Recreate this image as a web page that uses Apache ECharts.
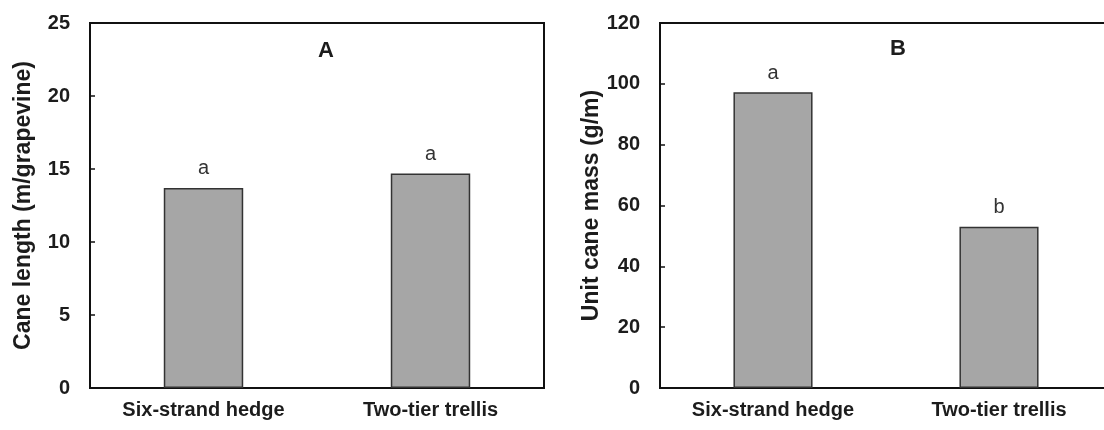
<!DOCTYPE html>
<html>
<head>
<meta charset="utf-8">
<script src="https://cdn.jsdelivr.net/npm/echarts@6/dist/echarts.min.js"></script>
<style>
  html, body { margin: 0; padding: 0; background: #fff; overflow: hidden; }
  #chart { width: 1120px; height: 430px; }
</style>
</head>
<body>
<div id="chart"></div>
<script>
// Training systems compared in both panels
const systems = ['Six-strand hedge', 'Two-tier trellis'];

// Panel A: cane length per grapevine (m)
const caneLength = [13.7, 14.7];
const caneLengthLetters = ['a', 'a'];

// Panel B: unit cane mass (g/m)
const unitMass = [97.2, 53.0];
const unitMassLetters = ['a', 'b'];

const FONT = '"Liberation Sans", Arial, sans-serif';
const INK = '#1c1c1c';

function valueAxis(gridIndex, max, interval, name) {
  return {
    type: 'value', gridIndex, min: 0, max, interval,
    name, nameLocation: 'middle', nameGap: 55,
    nameTextStyle: { fontFamily: FONT, fontWeight: 'bold', fontSize: 23, color: INK },
    axisLine: { show: true, lineStyle: { color: '#111', width: 2 } },
    axisTick: { show: true, inside: true, length: 5, lineStyle: { color: '#111', width: 1.5 } },
    axisLabel: { fontFamily: FONT, fontWeight: 'bold', fontSize: 20, color: INK, margin: 20 },
    splitLine: { show: false }
  };
}

function categoryAxis(gridIndex) {
  return {
    type: 'category', gridIndex, data: systems,
    axisLine: { show: true, lineStyle: { color: '#111', width: 2 } },
    axisTick: { show: false },
    axisLabel: { fontFamily: FONT, fontWeight: 'bold', fontSize: 20, color: INK, margin: 12 }
  };
}

function barSeries(index, values, letters) {
  return {
    type: 'bar', xAxisIndex: index, yAxisIndex: index,
    data: values, barWidth: '35%',
    itemStyle: { color: '#a6a6a6', borderColor: '#333', borderWidth: 1.5 },
    label: {
      show: true, position: 'top', distance: 9,
      formatter: p => letters[p.dataIndex],
      fontFamily: FONT, fontSize: 20, color: '#333'
    },
    silent: true, animation: false
  };
}

const chart = echarts.init(document.getElementById('chart'));
chart.setOption({
  animation: false,
  backgroundColor: '#fff',
  title: [
    { text: 'A', left: 313, top: 35, textStyle: { fontFamily: FONT, fontWeight: 'bold', fontSize: 22, color: INK } },
    { text: 'B', left: 885, top: 33, textStyle: { fontFamily: FONT, fontWeight: 'bold', fontSize: 22, color: INK } }
  ],
  grid: [
    { left: 90, top: 23, width: 454, height: 365, show: true, borderColor: '#111', borderWidth: 2 },
    { left: 660, top: 23, width: 452, height: 365, show: true, borderColor: '#111', borderWidth: 2 }
  ],
  xAxis: [categoryAxis(0), categoryAxis(1)],
  yAxis: [
    valueAxis(0, 25, 5, 'Cane length (m/grapevine)'),
    valueAxis(1, 120, 20, 'Unit cane mass (g/m)')
  ],
  series: [
    barSeries(0, caneLength, caneLengthLetters),
    barSeries(1, unitMass, unitMassLetters)
  ]
});
</script>
</body>
</html>
